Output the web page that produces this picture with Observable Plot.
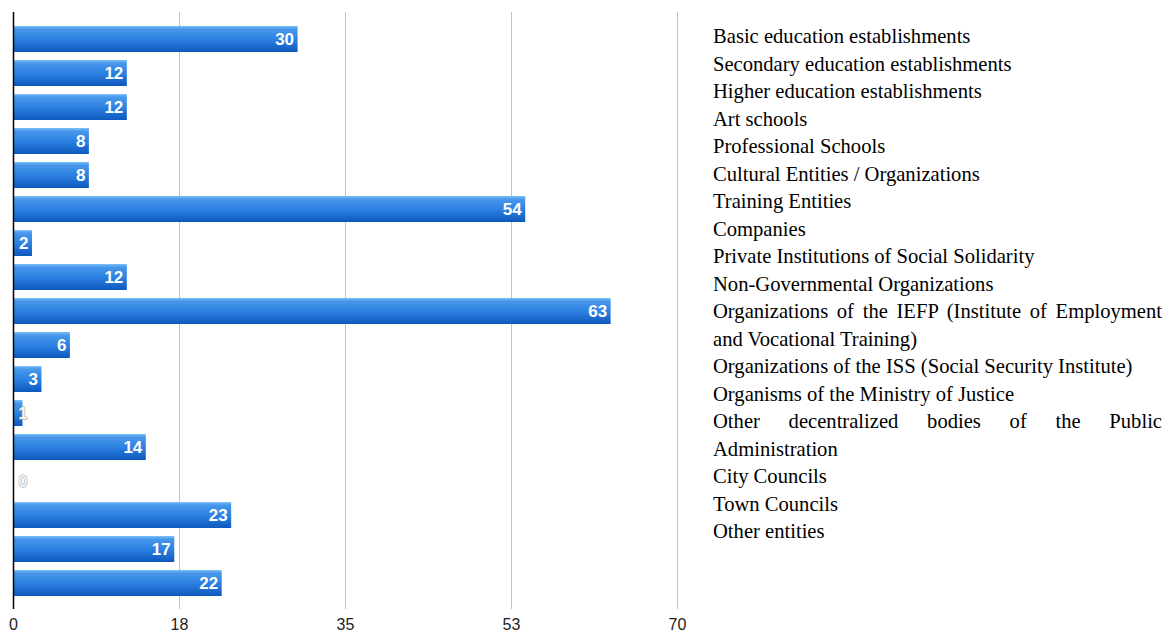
<!DOCTYPE html>
<html>
<head>
<meta charset="utf-8">
<script src="https://cdn.jsdelivr.net/npm/d3@7"></script>
<script src="https://cdn.jsdelivr.net/npm/@observablehq/plot@0.6"></script>
<style>
  body { margin: 0; background: #fff; }
  #wrap { position: relative; width: 1170px; height: 634px; overflow: hidden; }
  #chart { position: absolute; left: 0; top: 0; }
  #legend {
    position: absolute; left: 713px; top: 23px; width: 449px;
    font-family: "Liberation Serif", "Times New Roman", serif;
    font-size: 20.6px; line-height: 27.5px; color: #000;
  }
  #legend div { text-align: justify; }
  g[aria-label="bar-labels"] text { text-shadow: 1px 1px 1px rgba(10, 40, 90, 0.95); }
  g[aria-label="small-labels"] text { paint-order: stroke; }
</style>
</head>
<body>
<div id="wrap">
  <div id="chart"></div>
  <div id="legend"></div>
</div>
<script>
const categories = [
  "Basic education establishments",
  "Secondary education establishments",
  "Higher education establishments",
  "Art schools",
  "Professional Schools",
  "Cultural Entities / Organizations",
  "Training Entities",
  "Companies",
  "Private Institutions of Social Solidarity",
  "Non-Governmental Organizations",
  "Organizations of the IEFP (Institute of Employment and Vocational Training)",
  "Organizations of the ISS (Social Security Institute)",
  "Organisms of the Ministry of Justice",
  "Other decentralized bodies of the Public Administration",
  "City Councils",
  "Town Councils",
  "Other entities"
];
const values = [30, 12, 12, 8, 8, 54, 2, 12, 63, 6, 3, 1, 14, 0, 23, 17, 22];
const tickValues = [0, 17.5, 35, 52.5, 70];
const tickLabels = ["0", "18", "35", "53", "70"];

const data = categories.map((c, i) => ({category: c, value: values[i]}));
const fmtTick = d => tickLabels[tickValues.indexOf(d)];

const plot = Plot.plot({
  width: 700,
  height: 634,
  marginLeft: 13,
  marginRight: 23,
  marginTop: 12,
  marginBottom: 25,
  style: {fontFamily: "Arial, 'Liberation Sans', sans-serif", fontSize: "15px", color: "#222", background: "transparent"},
  x: {domain: [0, 70], axis: null, label: null},
  y: {domain: categories, padding: 0.24, axis: null},
  marks: [
    Plot.gridX(tickValues.slice(1), {stroke: "#c4c4c4", strokeOpacity: 1, strokeWidth: 1}),
    Plot.barX(data, {x: "value", y: "category", fill: "url(#barGrad)"}),
    Plot.ruleX([0], {stroke: "#000", strokeWidth: 1.5}),
    Plot.text(tickValues, {
      x: d => d, frameAnchor: "bottom", dy: 15, text: fmtTick,
      fontSize: 16, fill: "#222", lineAnchor: "middle", ariaLabel: "x-ticks"
    }),
    Plot.text(data.filter(d => d.value >= 2), {
      x: "value", y: "category", text: d => String(d.value),
      textAnchor: "end", dx: -4, fill: "#fff", fontWeight: "bold", fontSize: 17,
      fontFamily: "Arial, 'Liberation Sans', sans-serif", ariaLabel: "bar-labels"
    }),
    Plot.text(data.filter(d => d.value < 2), {
      x: 0, y: "category", text: d => String(d.value),
      textAnchor: "start", dx: 5, fill: "#f2f2f2", stroke: "#9a9a9a", strokeWidth: 1,
      fontWeight: "bold", fontSize: 16,
      fontFamily: "Arial, 'Liberation Sans', sans-serif", ariaLabel: "small-labels"
    })
  ]
});

const svg = d3.select(plot);
const defs = svg.insert("defs", ":first-child");
const grad = defs.append("linearGradient").attr("id", "barGrad")
  .attr("x1", 0).attr("y1", 0).attr("x2", 0).attr("y2", 1);
grad.append("stop").attr("offset", "0%").attr("stop-color", "#7cc0fa");
grad.append("stop").attr("offset", "12%").attr("stop-color", "#4798ec");
grad.append("stop").attr("offset", "55%").attr("stop-color", "#2a7ee0");
grad.append("stop").attr("offset", "100%").attr("stop-color", "#0e58bd");

document.getElementById("chart").appendChild(plot);

const legend = d3.select("#legend");
legend.selectAll("div").data(categories).join("div").text(d => d);
</script>
</body>
</html>
